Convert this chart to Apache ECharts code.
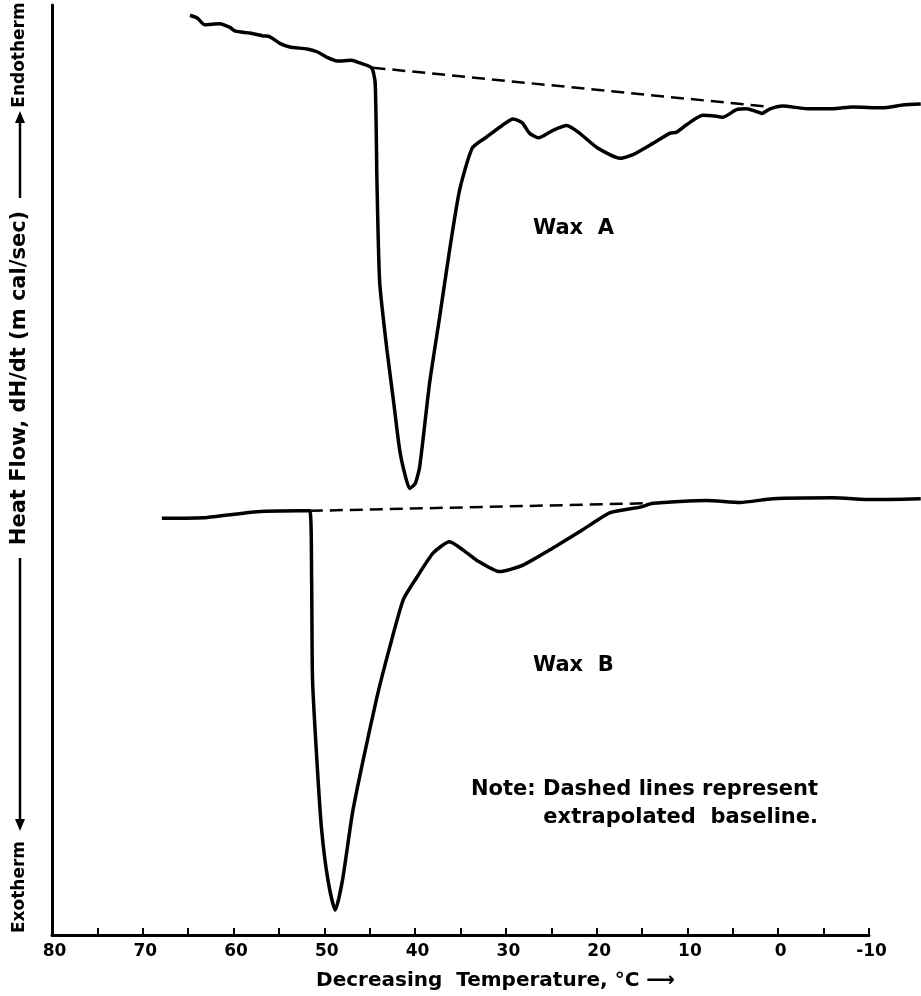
<!DOCTYPE html>
<html>
<head>
<meta charset="utf-8">
<script src="https://cdn.jsdelivr.net/npm/echarts@6/dist/echarts.min.js"></script>
<style>
  html, body { margin: 0; padding: 0; background: #fff; }
  #chart { width: 921px; height: 996px; }
</style>
</head>
<body>
<div id="chart"></div>
<script>
// temperatures (°C) and heat flow (arbitrary chart units)
const waxATemp = [64.8, 64.0, 63.2, 61.5, 60.4, 59.8, 58.2, 56.8, 56.0, 54.9, 53.8, 51.9, 50.8, 49.7, 48.6, 47.0, 46.1, 44.8,
  44.4, 44.2, 43.9, 43.1, 42.4, 41.7, 41.1, 40.6, 40.0, 39.5, 38.4, 37.3, 36.2, 35.1, 33.7, 32.1, 30.3, 29.2, 28.2, 27.4,
  26.4, 24.8, 23.3, 21.9, 19.9, 17.4, 16.0, 13.8, 11.9, 11.2, 10.1, 8.3, 6.8, 6.1, 4.6, 3.5, 2.4, 1.8, 0.9, -0.5, -3.2,
  -6.0, -8.2, -11.5, -13.7, -15.7]
const waxAFlow = [98.9, 98.6, 97.9, 98.0, 97.6, 97.2, 97.0, 96.7, 96.6, 95.9, 95.5, 95.3, 95.0, 94.4, 94.0, 94.1, 93.8, 93.3,
  91.7, 81.0, 70.3, 63.1, 57.8, 52.4, 49.7, 48.3, 48.8, 50.6, 59.6, 66.6, 73.8, 80.2, 84.7, 85.9, 87.2, 87.8, 87.4, 86.3,
  85.8, 86.6, 87.1, 86.3, 84.7, 83.6, 84.0, 85.2, 86.3, 86.4, 87.2, 88.2, 88.1, 88.0, 88.8, 88.9, 88.6, 88.4, 88.9, 89.2, 88.9,
  88.9, 89.1, 89.0, 89.3, 89.4]

const waxBTemp = [67.9, 62.9, 57.4, 52.7, 51.6, 51.4, 51.3, 50.8, 50.3, 49.6, 48.8, 48.0, 46.9, 45.8, 44.2, 42.8, 41.3,
  39.8, 38.0, 36.2, 34.7, 33.2, 30.7, 28.1, 25.2, 21.5, 18.5, 15.2, 13.8, 7.9, 4.2, 0.6, -6.0, -10.4, -15.7]
const waxBFlow = [45.1, 45.2, 45.8, 45.9, 45.9, 38.5, 27.8, 18.9, 11.8, 6.4, 3.2, 6.4, 13.6, 18.9, 26.0, 31.3, 36.4,
  38.8, 41.4, 42.6, 41.7, 40.6, 39.4, 40.1, 41.7, 43.9, 45.7, 46.3, 46.7, 47.0, 46.8, 47.2, 47.3, 47.1, 47.2]

// extrapolated baselines (dashed)
const baseATemp = [44.7, 0.9]
const baseAFlow = [93.3, 89.1]
const baseBTemp = [51.6, 14.9]
const baseBFlow = [45.9, 46.7]

const zip = (xs, ys) => xs.map((x, i) => [x, ys[i]])

const W = 921, H = 996
const gridL = 52, gridR = 52, gridT = 5, gridB = 56
// the traces run past the -10 tick to the page edge, so they sit on a wider hidden grid with the same scale
const fullMin = 80 - 90 * (W - gridL) / (W - gridL - gridR)

const chart = echarts.init(document.getElementById('chart'))

const traceStyle = { color: '#000', width: 3.5 }
const dashStyle = { color: '#000', width: 2.5, type: [13, 7] }
const bold = size => 'bold ' + size + 'px "DejaVu Sans"'

chart.setOption({
  animation: false,
  backgroundColor: '#fff',
  grid: [
    { left: gridL, right: gridR, top: gridT, bottom: gridB },
    { left: gridL, right: 0, top: gridT, bottom: gridB }
  ],
  xAxis: [{
    type: 'value',
    gridIndex: 0,
    inverse: true,
    min: -10,
    max: 80,
    interval: 5,
    axisLine: { lineStyle: { color: '#000', width: 3 } },
    axisTick: { inside: true, length: 7, lineStyle: { color: '#000', width: 2 } },
    axisLabel: {
      color: '#000',
      fontFamily: 'DejaVu Sans',
      fontWeight: 'bold',
      fontSize: 17,
      margin: 8,
      padding: [0, 0, 0, 5],
      formatter: v => (v % 10 === 0 ? String(v) : '')
    },
    splitLine: { show: false },
    name: 'Decreasing  Temperature, °C ⟶',
    nameLocation: 'middle',
    nameGap: 36,
    nameTextStyle: {
      color: '#000',
      fontFamily: 'DejaVu Sans',
      fontWeight: 'bold',
      fontSize: 20,
      padding: [0, 0, 0, 70]
    }
  }, {
    type: 'value',
    gridIndex: 1,
    inverse: true,
    min: fullMin,
    max: 80,
    show: false
  }],
  yAxis: [{
    type: 'value',
    gridIndex: 0,
    min: 0,
    max: 100,
    axisLine: { show: true, onZero: false, lineStyle: { color: '#000', width: 3 } },
    axisTick: { show: false },
    axisLabel: { show: false },
    splitLine: { show: false }
  }, {
    type: 'value',
    gridIndex: 1,
    min: 0,
    max: 100,
    show: false
  }],
  series: [
    { type: 'line', xAxisIndex: 1, yAxisIndex: 1, data: zip(waxATemp, waxAFlow), showSymbol: false, smooth: 0.2, lineStyle: traceStyle },
    { type: 'line', xAxisIndex: 1, yAxisIndex: 1, data: zip(waxBTemp, waxBFlow), showSymbol: false, smooth: 0.2, lineStyle: traceStyle },
    { type: 'line', xAxisIndex: 1, yAxisIndex: 1, data: zip(baseATemp, baseAFlow), showSymbol: false, lineStyle: dashStyle },
    { type: 'line', xAxisIndex: 1, yAxisIndex: 1, data: zip(baseBTemp, baseBFlow), showSymbol: false, lineStyle: dashStyle }
  ],
  graphic: [
    // y axis title, drawn bottom-to-top with arrow rules
    { type: 'text', x: 20, y: 55, rotation: Math.PI / 2, style: { text: 'Endotherm', fill: '#000', font: bold(17), align: 'center', verticalAlign: 'middle' } },
    { type: 'line', shape: { x1: 20, y1: 120, x2: 20, y2: 198 }, style: { stroke: '#000', lineWidth: 2.5 } },
    { type: 'polygon', shape: { points: [[20, 111], [15, 123], [25, 123]] }, style: { fill: '#000' } },
    { type: 'text', x: 20, y: 378, rotation: Math.PI / 2, style: { text: 'Heat Flow, dH/dt (m cal/sec)', fill: '#000', font: bold(21), align: 'center', verticalAlign: 'middle' } },
    { type: 'line', shape: { x1: 20, y1: 558, x2: 20, y2: 822 }, style: { stroke: '#000', lineWidth: 2.5 } },
    { type: 'polygon', shape: { points: [[20, 831], [15, 819], [25, 819]] }, style: { fill: '#000' } },
    { type: 'text', x: 20, y: 887, rotation: Math.PI / 2, style: { text: 'Exotherm', fill: '#000', font: bold(17), align: 'center', verticalAlign: 'middle' } },
    // annotations
    { type: 'text', x: 533, y: 229, style: { text: 'Wax  A', fill: '#000', font: bold(21), verticalAlign: 'middle' } },
    { type: 'text', x: 533, y: 666, style: { text: 'Wax  B', fill: '#000', font: bold(21), verticalAlign: 'middle' } },
    { type: 'text', x: 818, y: 790, style: { text: 'Note: Dashed lines represent', fill: '#000', font: bold(21), align: 'right', verticalAlign: 'middle' } },
    { type: 'text', x: 818, y: 818, style: { text: 'extrapolated  baseline.', fill: '#000', font: bold(21), align: 'right', verticalAlign: 'middle' } }
  ]
})
</script>
</body>
</html>
